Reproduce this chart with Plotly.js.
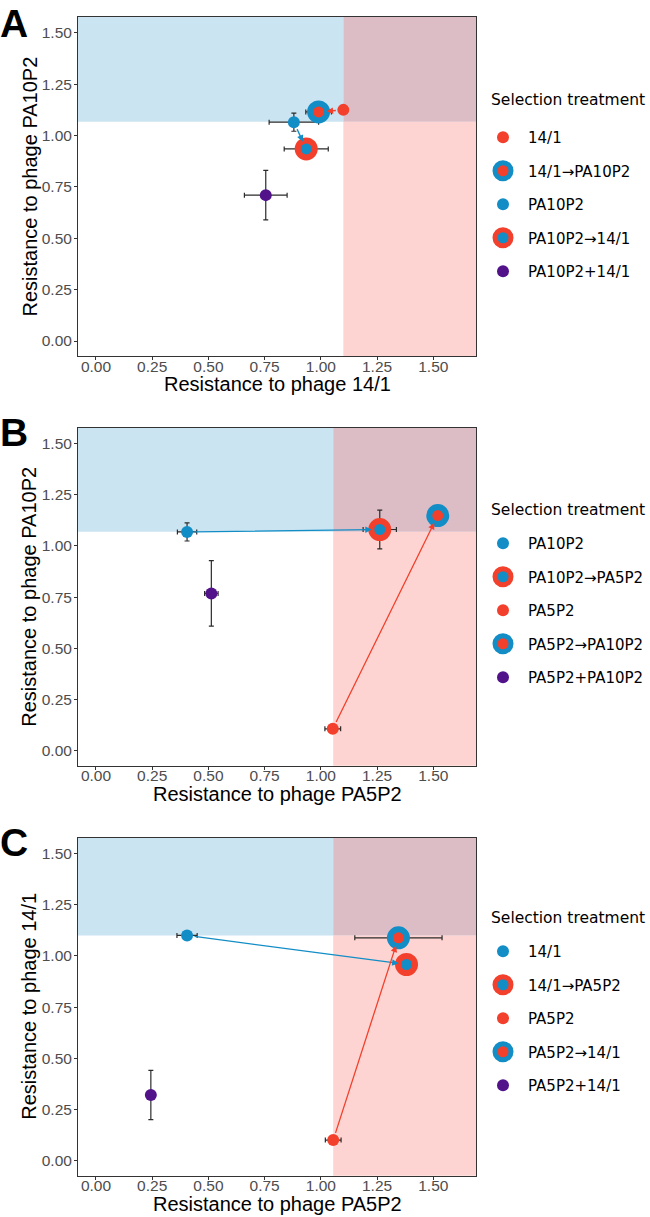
<!DOCTYPE html>
<html>
<head>
<meta charset="utf-8">
<script src="https://cdn.plot.ly/plotly-3.0.1.min.js"></script>
<style>
  body { margin: 0; background: #fff; }
  #chart { width: 650px; height: 1217px; }
</style>
</head>
<body>
<div id="chart"></div>
<script>
// data
var namesA = ['14/1', '14/1\u2192PA10P2', 'PA10P2', 'PA10P2\u219214/1', 'PA10P2+14/1'];
var xA = [1.10, 0.99, 0.88, 0.935, 0.755];
var yA = [1.125, 1.115, 1.065, 0.935, 0.71];
var xErrA = [0, 0.057, 0.11, 0.098, 0.095];
var yErrA = [0, 0, 0.044, 0.02, 0.12];

var namesB = ['PA10P2', 'PA10P2\u2192PA5P2', 'PA5P2', 'PA5P2\u2192PA10P2', 'PA5P2+PA10P2'];
var xB = [0.405, 1.262, 1.053, 1.52, 0.513];
var yB = [1.068, 1.08, 0.107, 1.148, 0.768];
var xErrB = [0.043, 0.074, 0.035, 0, 0.03];
var yErrB = [0.044, 0.095, 0, 0, 0.16];

var namesC = ['14/1', '14/1\u2192PA5P2', 'PA5P2', 'PA5P2\u219214/1', 'PA5P2+14/1'];
var xC = [0.405, 1.381, 1.055, 1.345, 0.244];
var yC = [1.10, 0.958, 0.101, 1.088, 0.321];
var xErrC = [0.045, 0, 0.035, 0.194, 0];
var yErrC = [0, 0, 0, 0, 0.12];

// resistance thresholds (shaded zones)
var cutA = [1.10, 1.067];
var cutB = [1.055, 1.069];
var cutC = [1.055, 1.10];

var xTitles = ['Resistance to phage 14/1', 'Resistance to phage PA5P2', 'Resistance to phage PA5P2'];
var yTitles = ['Resistance to phage PA10P2', 'Resistance to phage PA10P2', 'Resistance to phage 14/1'];
var letters = ['A', 'B', 'C'];
var tickVals = [0, 0.25, 0.5, 0.75, 1, 1.25, 1.5];

var red = '#f2402c';
var blue = '#128dc6';
var purple = '#51128a';

// marker style per slot: [fill, ring]
var stylesA = [[red, null], [red, blue], [blue, null], [blue, red], [purple, null]];
var stylesBC = [[blue, null], [blue, red], [red, null], [red, blue], [purple, null]];

var panels = [
    {names: namesA, x: xA, y: yA, ex: xErrA, ey: yErrA, cut: cutA, styles: stylesA},
    {names: namesB, x: xB, y: yB, ex: xErrB, ey: yErrB, cut: cutB, styles: stylesBC},
    {names: namesC, x: xC, y: yC, ex: xErrC, ey: yErrC, cut: cutC, styles: stylesBC}
];

var W = 650, H = 1217;
var plotLeft = 78, plotRight = 476;
var plotTops = [17, 427.7, 837.7];
var plotBottoms = [356, 765.7, 1175.7];
var legTitleY = [100, 510, 918];
var legendTops = [121, 527, 935];

var data = [];
var shapes = [];
var annotations = [];
var layout = {
    width: W,
    height: H,
    margin: {l: 0, r: 0, t: 0, b: 0},
    paper_bgcolor: '#ffffff',
    plot_bgcolor: '#ffffff',
    showlegend: true,
    font: {family: 'Liberation Sans, Arial, sans-serif', color: '#000'}
};

// draw order: small dots, rings, purple last
var drawOrder = [2, 0, 3, 1, 4];

panels.forEach(function (p, k) {
    var sfx = k === 0 ? '' : String(k + 1);
    var xr = 'x' + sfx, yr = 'y' + sfx;
    var leg = 'legend' + sfx;

    drawOrder.forEach(function (i) {
        var st = p.styles[i];
        var isRing = st[1] !== null;
        data.push({
            x: [p.x[i]],
            y: [p.y[i]],
            name: p.names[i],
            type: 'scatter',
            mode: 'markers',
            xaxis: xr,
            yaxis: yr,
            legend: leg,
            legendgroup: 'g' + k + '_' + i,
            legendrank: i + 1,
            marker: isRing ?
                {color: st[0], size: 17, line: {color: st[1], width: 6}} :
                {color: st[0], size: 12, line: {width: 0}},
            error_x: {type: 'data', array: [p.ex[i]], visible: p.ex[i] > 0, color: '#2b2b2b', thickness: 1.2, width: 2.5},
            error_y: {type: 'data', array: [p.ey[i]], visible: p.ey[i] > 0, color: '#2b2b2b', thickness: 1.2, width: 2.5},
            hoverinfo: 'name+x+y'
        });
    });

    // shaded resistance zones
    var cx = p.cut[0], cy = p.cut[1];
    shapes.push({type: 'rect', xref: xr, yref: yr, x0: -5, x1: cx, y0: cy, y1: 5,
        fillcolor: '#cbe4f1', line: {width: 0}, layer: 'below'});
    shapes.push({type: 'rect', xref: xr, yref: yr, x0: cx, x1: 5, y0: -5, y1: cy,
        fillcolor: '#fdd4d1', line: {width: 0}, layer: 'below'});
    shapes.push({type: 'rect', xref: xr, yref: yr, x0: cx, x1: 5, y0: cy, y1: 5,
        fillcolor: '#dcbdc6', line: {width: 0}, layer: 'below'});

    // arrows: single-phage treatment -> sequential treatment
    [[0, 1], [2, 3]].forEach(function (pair) {
        var a = pair[0], b = pair[1];
        annotations.push({
            xref: xr, yref: yr, axref: xr, ayref: yr,
            x: p.x[b], y: p.y[b], ax: p.x[a], ay: p.y[a],
            text: '', showarrow: true,
            arrowhead: 2, arrowsize: 1, arrowwidth: 1.3,
            arrowcolor: p.styles[a][0],
            standoff: 8, startstandoff: 6
        });
    });

    // panel letter
    annotations.push({
        xref: 'paper', yref: 'paper', x: 0, y: Math.min(1, 1 - (plotTops[k] - 19) / H),
        xanchor: 'left', yanchor: 'top', showarrow: false, xshift: -2,
        text: '<b>' + letters[k] + '</b>',
        font: {family: 'Liberation Sans, Arial, sans-serif', size: 39, color: '#000'}
    });

    // legend title
    annotations.push({
        xref: 'paper', yref: 'paper', x: 489 / W, y: 1 - legTitleY[k] / H,
        xanchor: 'left', yanchor: 'middle', showarrow: false,
        text: 'Selection treatment',
        font: {family: 'DejaVu Sans, sans-serif', size: 15.5, color: '#000'}
    });

    // axis titles
    annotations.push({
        xref: 'paper', yref: 'paper',
        x: (plotLeft + plotRight) / 2 / W, y: 1 - (plotBottoms[k] + 28) / H,
        xanchor: 'center', yanchor: 'middle', showarrow: false,
        text: xTitles[k],
        font: {family: 'Liberation Sans, Arial, sans-serif', size: 20, color: '#000'}
    });
    annotations.push({
        xref: 'paper', yref: 'paper',
        x: 29 / W, y: 1 - (plotTops[k] + plotBottoms[k]) / 2 / H,
        xanchor: 'center', yanchor: 'middle', showarrow: false, textangle: -90,
        text: yTitles[k],
        font: {family: 'Liberation Sans, Arial, sans-serif', size: 20, color: '#000'}
    });

    var yDom = [1 - plotBottoms[k] / H, 1 - plotTops[k] / H];
    var axisBase = {
        showgrid: false, zeroline: false,
        showline: true, mirror: true, linecolor: '#333', linewidth: 1,
        ticks: 'outside', ticklen: 3, tickcolor: '#333', tickwidth: 1,
        tickvals: tickVals, tickformat: '.2f',
        tickfont: {family: 'Liberation Sans, Arial, sans-serif', size: 15.5, color: '#4d4d4d'}
    };
    layout['xaxis' + sfx] = Object.assign({}, axisBase, {
        domain: [plotLeft / W, plotRight / W],
        range: [-0.08, 1.69],
        ticklabelstandoff: -7,
        anchor: yr
    });
    layout['yaxis' + sfx] = Object.assign({}, axisBase, {
        domain: yDom,
        range: [-0.073, 1.577],
        ticklabelstandoff: -1,
        anchor: xr
    });
    layout[leg] = {
        x: 478 / W, xanchor: 'left',
        y: 1 - legendTops[k] / H, yanchor: 'top',
        bgcolor: 'rgba(0,0,0,0)',
        traceorder: 'grouped',
        tracegroupgap: 11,
        itemwidth: 40,
        font: {family: 'DejaVu Sans, sans-serif', size: 15, color: '#000'}
    };
});

layout.shapes = shapes;
layout.annotations = annotations;

Plotly.newPlot('chart', data, layout, {displayModeBar: false, staticPlot: true});
</script>
</body>
</html>
